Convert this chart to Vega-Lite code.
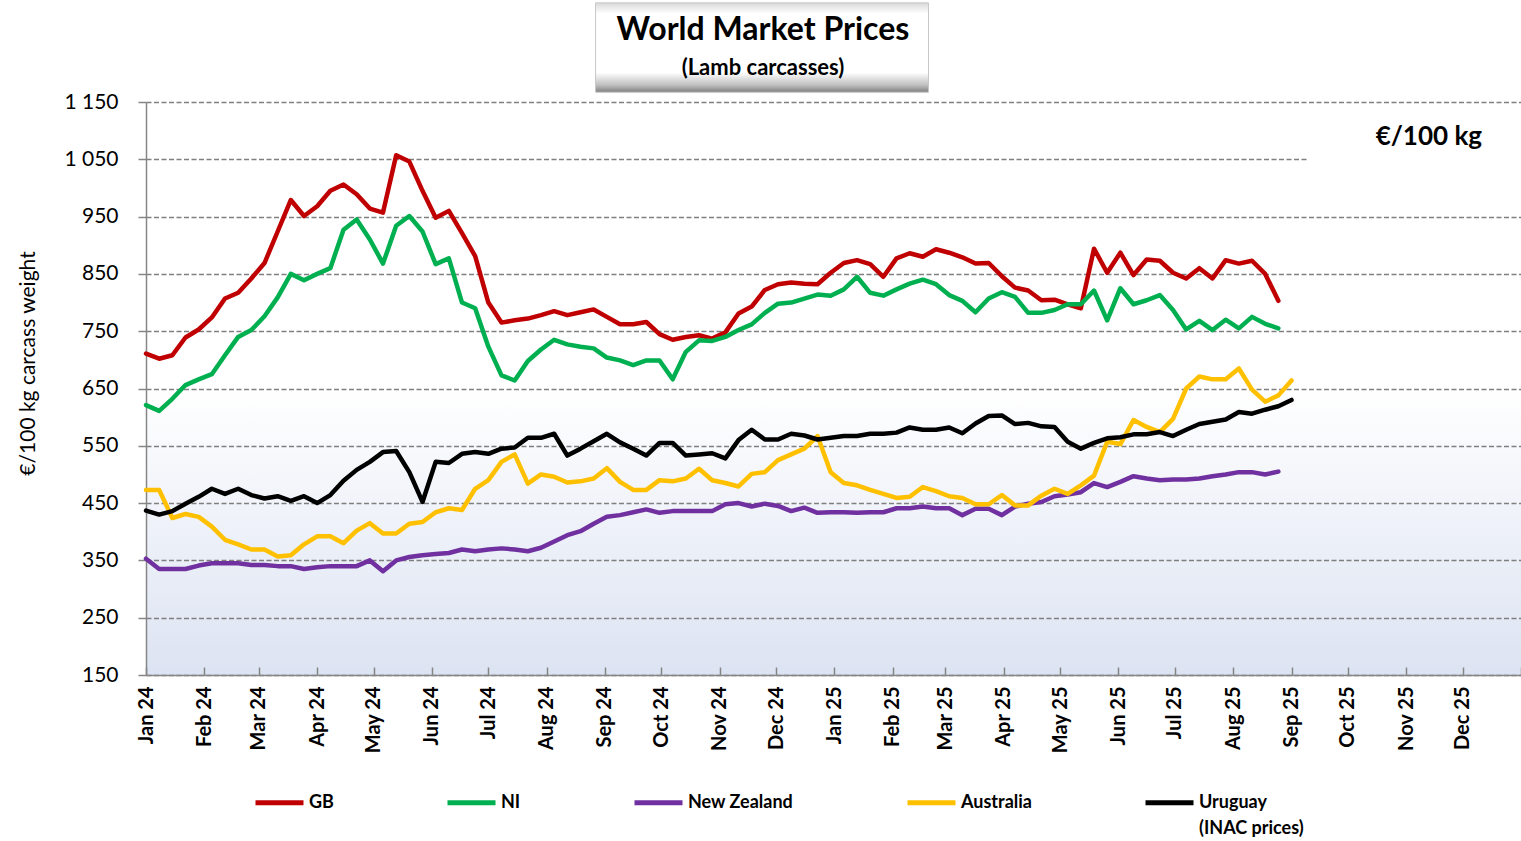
{
  "$schema": "https://vega.github.io/schema/vega-lite/v6.json",
  "width": 1375,
  "height": 573,
  "autosize": {"type": "none"},
  "padding": {"left": 146, "top": 102, "right": 0, "bottom": 166},
  "background": "white",
  "config": {
    "font": "Lato",
    "view": {
      "stroke": null,
      "fill": {
        "gradient": "linear", "x1": 0, "y1": 0, "x2": 0, "y2": 1,
        "stops": [
          {"offset": 0, "color": "#ffffff"},
          {"offset": 0.5, "color": "#ffffff"},
          {"offset": 1, "color": "#dce3f2"}
        ]
      }
    }
  },
  "layer": [
    {
      "data": {"values": [{}]},
      "mark": {
        "type": "rect",
        "stroke": "#c8c8c8",
        "strokeWidth": 1,
        "fill": {
          "gradient": "linear", "x1": 0, "y1": 0, "x2": 0, "y2": 1,
          "stops": [
            {"offset": 0, "color": "#d9d9d9"},
            {"offset": 0.12, "color": "#ffffff"},
            {"offset": 0.78, "color": "#ffffff"},
            {"offset": 0.92, "color": "#bfbfbf"},
            {"offset": 1, "color": "#7f7f7f"}
          ]
        }
      },
      "encoding": {
        "x": {"datum": {"year": 2024, "month": 8, "date": 27, "utc": true}, "type": "temporal", "scale": {"type": "utc", "domain": [{"year": 2024, "month": 1, "date": 1, "utc": true}, {"year": 2026, "month": 1, "date": 1, "utc": true}]}},
        "x2": {"datum": {"year": 2025, "month": 2, "date": 20, "utc": true}},
        "y": {"datum": 1323, "type": "quantitative", "scale": {"domain": [150, 1150], "nice": false, "zero": false}},
        "y2": {"datum": 1167}
      }
    },
    {
      "data": {"values": [{"label": "World Market Prices"}]},
      "mark": {"type": "text", "font": "Lato", "fontSize": 32, "fontWeight": "bold", "color": "black", "align": "center", "baseline": "alphabetic"},
      "encoding": {
        "text": {"field": "label"},
        "x": {"datum": {"year": 2024, "month": 11, "date": 24, "utc": true}, "type": "temporal", "scale": {"type": "utc", "domain": [{"year": 2024, "month": 1, "date": 1, "utc": true}, {"year": 2026, "month": 1, "date": 1, "utc": true}]}},
        "y": {"datum": 1258, "type": "quantitative", "scale": {"domain": [150, 1150], "nice": false, "zero": false}}
      }
    },
    {
      "data": {"values": [{"label": "(Lamb carcasses)"}]},
      "mark": {"type": "text", "font": "Lato", "fontSize": 22, "fontWeight": "bold", "color": "black", "align": "center", "baseline": "alphabetic"},
      "encoding": {
        "text": {"field": "label"},
        "x": {"datum": {"year": 2024, "month": 11, "date": 24, "utc": true}, "type": "temporal", "scale": {"type": "utc", "domain": [{"year": 2024, "month": 1, "date": 1, "utc": true}, {"year": 2026, "month": 1, "date": 1, "utc": true}]}},
        "y": {"datum": 1197, "type": "quantitative", "scale": {"domain": [150, 1150], "nice": false, "zero": false}}
      }
    },
    {
      "data": {"values": [{}]},
      "mark": {"type": "rect", "fill": "white"},
      "encoding": {
        "x": {"datum": {"year": 2025, "month": 9, "date": 10, "utc": true}, "type": "temporal", "scale": {"type": "utc", "domain": [{"year": 2024, "month": 1, "date": 1, "utc": true}, {"year": 2026, "month": 1, "date": 1, "utc": true}]}},
        "x2": {"datum": {"year": 2026, "month": 1, "date": 1, "utc": true}},
        "y": {"datum": 1135, "type": "quantitative", "scale": {"domain": [150, 1150], "nice": false, "zero": false}},
        "y2": {"datum": 985}
      }
    },
    {
      "data": {"values": [{"label": "€/100 kg"}]},
      "mark": {"type": "text", "font": "Lato", "fontSize": 26, "fontWeight": "bold", "color": "black", "align": "center", "baseline": "middle"},
      "encoding": {
        "text": {"field": "label"},
        "x": {"datum": {"year": 2025, "month": 11, "date": 13, "utc": true}, "type": "temporal", "scale": {"type": "utc", "domain": [{"year": 2024, "month": 1, "date": 1, "utc": true}, {"year": 2026, "month": 1, "date": 1, "utc": true}]}},
        "y": {"datum": 1089, "type": "quantitative", "scale": {"domain": [150, 1150], "nice": false, "zero": false}}
      }
    },
    {
      "data": {
        "values": [
          {"date": "2024-01-01", "GB": 711, "NI": 621, "New Zealand": 353, "Australia": 473, "Uruguay": 437},
          {"date": "2024-01-08", "GB": 702, "NI": 611, "New Zealand": 335, "Australia": 473, "Uruguay": 430},
          {"date": "2024-01-15", "GB": 708, "NI": 632, "New Zealand": 335, "Australia": 424, "Uruguay": 436},
          {"date": "2024-01-22", "GB": 739, "NI": 656, "New Zealand": 335, "Australia": 431, "Uruguay": 449},
          {"date": "2024-01-29", "GB": 753, "NI": 666, "New Zealand": 341, "Australia": 426, "Uruguay": 461},
          {"date": "2024-02-05", "GB": 774, "NI": 675, "New Zealand": 345, "Australia": 409, "Uruguay": 475},
          {"date": "2024-02-12", "GB": 807, "NI": 708, "New Zealand": 345, "Australia": 386, "Uruguay": 466},
          {"date": "2024-02-19", "GB": 817, "NI": 740, "New Zealand": 345, "Australia": 378, "Uruguay": 475},
          {"date": "2024-02-26", "GB": 842, "NI": 752, "New Zealand": 342, "Australia": 369, "Uruguay": 464},
          {"date": "2024-03-04", "GB": 869, "NI": 776, "New Zealand": 342, "Australia": 369, "Uruguay": 458},
          {"date": "2024-03-11", "GB": 924, "NI": 809, "New Zealand": 340, "Australia": 357, "Uruguay": 462},
          {"date": "2024-03-18", "GB": 979, "NI": 850, "New Zealand": 340, "Australia": 359, "Uruguay": 454},
          {"date": "2024-03-25", "GB": 951, "NI": 839, "New Zealand": 335, "Australia": 378, "Uruguay": 462},
          {"date": "2024-04-01", "GB": 968, "NI": 850, "New Zealand": 338, "Australia": 392, "Uruguay": 450},
          {"date": "2024-04-08", "GB": 995, "NI": 860, "New Zealand": 340, "Australia": 392, "Uruguay": 464},
          {"date": "2024-04-15", "GB": 1006, "NI": 927, "New Zealand": 340, "Australia": 380, "Uruguay": 489},
          {"date": "2024-04-22", "GB": 989, "NI": 945, "New Zealand": 340, "Australia": 402, "Uruguay": 508},
          {"date": "2024-04-29", "GB": 964, "NI": 910, "New Zealand": 350, "Australia": 415, "Uruguay": 522},
          {"date": "2024-05-06", "GB": 957, "NI": 868, "New Zealand": 331, "Australia": 397, "Uruguay": 539},
          {"date": "2024-05-13", "GB": 1057, "NI": 934, "New Zealand": 350, "Australia": 397, "Uruguay": 541},
          {"date": "2024-05-20", "GB": 1046, "NI": 951, "New Zealand": 356, "Australia": 414, "Uruguay": 504},
          {"date": "2024-05-27", "GB": 995, "NI": 924, "New Zealand": 359, "Australia": 417, "Uruguay": 452},
          {"date": "2024-06-03", "GB": 948, "NI": 867, "New Zealand": 361, "Australia": 434, "Uruguay": 522},
          {"date": "2024-06-10", "GB": 960, "NI": 877, "New Zealand": 363, "Australia": 441, "Uruguay": 520},
          {"date": "2024-06-17", "GB": 921, "NI": 800, "New Zealand": 369, "Australia": 438, "Uruguay": 536},
          {"date": "2024-06-24", "GB": 881, "NI": 790, "New Zealand": 366, "Australia": 475, "Uruguay": 539},
          {"date": "2024-07-01", "GB": 800, "NI": 723, "New Zealand": 369, "Australia": 490, "Uruguay": 536},
          {"date": "2024-07-08", "GB": 765, "NI": 673, "New Zealand": 371, "Australia": 522, "Uruguay": 545},
          {"date": "2024-07-15", "GB": 769, "NI": 664, "New Zealand": 369, "Australia": 535, "Uruguay": 547},
          {"date": "2024-07-22", "GB": 772, "NI": 698, "New Zealand": 366, "Australia": 484, "Uruguay": 564},
          {"date": "2024-07-29", "GB": 778, "NI": 718, "New Zealand": 372, "Australia": 500, "Uruguay": 564},
          {"date": "2024-08-05", "GB": 785, "NI": 735, "New Zealand": 383, "Australia": 496, "Uruguay": 571},
          {"date": "2024-08-12", "GB": 778, "NI": 727, "New Zealand": 394, "Australia": 486, "Uruguay": 533},
          {"date": "2024-08-19", "GB": 783, "NI": 723, "New Zealand": 401, "Australia": 488, "Uruguay": 545},
          {"date": "2024-08-26", "GB": 788, "NI": 720, "New Zealand": 414, "Australia": 493, "Uruguay": 558},
          {"date": "2024-09-02", "GB": 775, "NI": 704, "New Zealand": 426, "Australia": 511, "Uruguay": 571},
          {"date": "2024-09-09", "GB": 762, "NI": 699, "New Zealand": 429, "Australia": 487, "Uruguay": 556},
          {"date": "2024-09-16", "GB": 762, "NI": 691, "New Zealand": 434, "Australia": 473, "Uruguay": 545},
          {"date": "2024-09-23", "GB": 766, "NI": 699, "New Zealand": 439, "Australia": 473, "Uruguay": 533},
          {"date": "2024-09-30", "GB": 745, "NI": 699, "New Zealand": 433, "Australia": 490, "Uruguay": 555},
          {"date": "2024-10-07", "GB": 735, "NI": 666, "New Zealand": 436, "Australia": 488, "Uruguay": 555},
          {"date": "2024-10-14", "GB": 740, "NI": 714, "New Zealand": 436, "Australia": 493, "Uruguay": 533},
          {"date": "2024-10-21", "GB": 743, "NI": 734, "New Zealand": 436, "Australia": 510, "Uruguay": 535},
          {"date": "2024-10-28", "GB": 737, "NI": 733, "New Zealand": 436, "Australia": 490, "Uruguay": 537},
          {"date": "2024-11-04", "GB": 748, "NI": 740, "New Zealand": 448, "Australia": 485, "Uruguay": 528},
          {"date": "2024-11-11", "GB": 781, "NI": 752, "New Zealand": 450, "Australia": 479, "Uruguay": 560},
          {"date": "2024-11-18", "GB": 793, "NI": 762, "New Zealand": 444, "Australia": 501, "Uruguay": 578},
          {"date": "2024-11-25", "GB": 822, "NI": 782, "New Zealand": 449, "Australia": 504, "Uruguay": 561},
          {"date": "2024-12-02", "GB": 832, "NI": 798, "New Zealand": 445, "Australia": 525, "Uruguay": 561},
          {"date": "2024-12-09", "GB": 835, "NI": 800, "New Zealand": 436, "Australia": 535, "Uruguay": 571},
          {"date": "2024-12-16", "GB": 833, "NI": 807, "New Zealand": 442, "Australia": 545, "Uruguay": 568},
          {"date": "2024-12-23", "GB": 832, "NI": 814, "New Zealand": 433, "Australia": 567, "Uruguay": 561},
          {"date": "2024-12-30", "GB": 852, "NI": 812, "New Zealand": 434, "Australia": 504, "Uruguay": 564},
          {"date": "2025-01-06", "GB": 869, "NI": 823, "New Zealand": 434, "Australia": 485, "Uruguay": 567},
          {"date": "2025-01-13", "GB": 874, "NI": 845, "New Zealand": 433, "Australia": 481, "Uruguay": 567},
          {"date": "2025-01-20", "GB": 867, "NI": 817, "New Zealand": 434, "Australia": 473, "Uruguay": 571},
          {"date": "2025-01-27", "GB": 845, "NI": 812, "New Zealand": 434, "Australia": 466, "Uruguay": 571},
          {"date": "2025-02-03", "GB": 877, "NI": 823, "New Zealand": 441, "Australia": 459, "Uruguay": 573},
          {"date": "2025-02-10", "GB": 886, "NI": 833, "New Zealand": 441, "Australia": 461, "Uruguay": 582},
          {"date": "2025-02-17", "GB": 880, "NI": 840, "New Zealand": 444, "Australia": 478, "Uruguay": 578},
          {"date": "2025-02-24", "GB": 893, "NI": 832, "New Zealand": 441, "Australia": 471, "Uruguay": 578},
          {"date": "2025-03-03", "GB": 887, "NI": 813, "New Zealand": 441, "Australia": 462, "Uruguay": 582},
          {"date": "2025-03-10", "GB": 879, "NI": 803, "New Zealand": 429, "Australia": 459, "Uruguay": 572},
          {"date": "2025-03-17", "GB": 868, "NI": 783, "New Zealand": 440, "Australia": 448, "Uruguay": 589},
          {"date": "2025-03-24", "GB": 869, "NI": 807, "New Zealand": 440, "Australia": 448, "Uruguay": 602},
          {"date": "2025-03-31", "GB": 846, "NI": 818, "New Zealand": 429, "Australia": 464, "Uruguay": 603},
          {"date": "2025-04-07", "GB": 826, "NI": 810, "New Zealand": 444, "Australia": 446, "Uruguay": 588},
          {"date": "2025-04-14", "GB": 821, "NI": 782, "New Zealand": 449, "Australia": 446, "Uruguay": 590},
          {"date": "2025-04-21", "GB": 804, "NI": 782, "New Zealand": 452, "Australia": 463, "Uruguay": 584},
          {"date": "2025-04-28", "GB": 805, "NI": 787, "New Zealand": 462, "Australia": 475, "Uruguay": 583},
          {"date": "2025-05-05", "GB": 797, "NI": 797, "New Zealand": 465, "Australia": 466, "Uruguay": 557},
          {"date": "2025-05-12", "GB": 790, "NI": 797, "New Zealand": 469, "Australia": 481, "Uruguay": 545},
          {"date": "2025-05-19", "GB": 894, "NI": 821, "New Zealand": 485, "Australia": 498, "Uruguay": 555},
          {"date": "2025-05-26", "GB": 852, "NI": 769, "New Zealand": 478, "Australia": 557, "Uruguay": 563},
          {"date": "2025-06-02", "GB": 887, "NI": 825, "New Zealand": 487, "Australia": 553, "Uruguay": 565},
          {"date": "2025-06-09", "GB": 848, "NI": 797, "New Zealand": 497, "Australia": 595, "Uruguay": 570},
          {"date": "2025-06-16", "GB": 875, "NI": 804, "New Zealand": 493, "Australia": 583, "Uruguay": 570},
          {"date": "2025-06-23", "GB": 873, "NI": 813, "New Zealand": 490, "Australia": 574, "Uruguay": 574},
          {"date": "2025-06-30", "GB": 852, "NI": 787, "New Zealand": 491, "Australia": 597, "Uruguay": 567},
          {"date": "2025-07-07", "GB": 842, "NI": 753, "New Zealand": 491, "Australia": 650, "Uruguay": 578},
          {"date": "2025-07-14", "GB": 860, "NI": 768, "New Zealand": 493, "Australia": 671, "Uruguay": 588},
          {"date": "2025-07-21", "GB": 842, "NI": 752, "New Zealand": 497, "Australia": 666, "Uruguay": 592},
          {"date": "2025-07-28", "GB": 874, "NI": 770, "New Zealand": 500, "Australia": 666, "Uruguay": 596},
          {"date": "2025-08-04", "GB": 868, "NI": 755, "New Zealand": 504, "Australia": 685, "Uruguay": 609},
          {"date": "2025-08-11", "GB": 873, "NI": 775, "New Zealand": 504, "Australia": 648, "Uruguay": 606},
          {"date": "2025-08-18", "GB": 850, "NI": 763, "New Zealand": 500, "Australia": 627, "Uruguay": 613},
          {"date": "2025-08-25", "GB": 803, "NI": 755, "New Zealand": 505, "Australia": 638, "Uruguay": 619},
          {"date": "2025-09-01", "Australia": 664, "Uruguay": 630}
        ]
      },
      "transform": [
        {"fold": ["GB", "NI", "New Zealand", "Australia", "Uruguay"], "as": ["series", "price"]}
      ],
      "mark": {"type": "line", "strokeWidth": 4.5, "strokeJoin": "round", "strokeCap": "round"},
      "encoding": {
        "x": {
          "field": "date",
          "type": "temporal",
          "scale": {"type": "utc", "domain": [{"year": 2024, "month": 1, "date": 1, "utc": true}, {"year": 2026, "month": 1, "date": 1, "utc": true}]},
          "axis": {
            "title": null,
            "tickCount": {"interval": "month", "step": 1},
            "labelExpr": "utcyear(datum.value) >= 2026 ? '' : utcFormat(datum.value, '%b %y')",
            "labelAngle": -90,
            "labelFont": "Lato",
            "labelFontSize": 20,
            "labelFontWeight": "bold",
            "labelColor": "black",
            "labelPadding": 19,
            "labelFlush": false,
            "labelOverlap": false,
            "labelBound": false,
            "tickSize": -8,
            "tickColor": "#868686",
            "tickWidth": 1.5,
            "domainColor": "#868686",
            "domainWidth": 1.5,
            "grid": false
          }
        },
        "y": {
          "field": "price",
          "type": "quantitative",
          "scale": {"domain": [150, 1150], "nice": false, "zero": false},
          "axis": {
            "values": [150, 250, 350, 450, 550, 650, 750, 850, 950, 1050, 1150],
            "labelExpr": "replace(format(datum.value, ','), ',', ' ')",
            "title": "€/100 kg carcass weight",
            "titleY": 261,
            "grid": true,
            "gridDash": [5, 2.5],
            "gridColor": "#7f7f7f",
            "gridWidth": 1.5,
            "domainColor": "#868686",
            "domainWidth": 1.5,
            "tickColor": "#868686",
            "tickWidth": 1.5,
            "tickSize": 8,
            "labelPadding": 20,
            "labelFont": "Lato",
            "labelFontSize": 21,
            "labelColor": "black",
            "titleFont": "Lato",
            "titleFontSize": 21,
            "titleFontWeight": "normal",
            "titleColor": "black",
            "titlePadding": 25
          }
        },
        "color": {
          "field": "series",
          "type": "nominal",
          "sort": ["GB", "NI", "New Zealand", "Australia", "Uruguay"],
          "scale": {
            "domain": ["GB", "NI", "New Zealand", "Australia", "Uruguay"],
            "range": ["#c00000", "#00b050", "#7030a0", "#ffc000", "#000000"]
          },
          "legend": {
            "title": null,
            "orient": "none",
            "legendX": 107,
            "legendY": 674,
            "direction": "horizontal",
            "columns": 5,
            "columnPadding": 103,
            "symbolType": "stroke",
            "symbolSize": 2304,
            "symbolStrokeWidth": 5,
            "labelFont": "Lato",
            "labelFontSize": 18,
            "labelFontWeight": "bold",
            "labelColor": "black",
            "labelOffset": 3,
            "labelLimit": 300,
            "labelExpr": "datum.label == 'Uruguay' ? ['Uruguay', '(INAC prices)'] : [datum.label, ' ']",
            "encode": {
              "labels": {"update": {"lineHeight": {"value": 26}}}
            }
          }
        }
      }
    }
  ]
}
